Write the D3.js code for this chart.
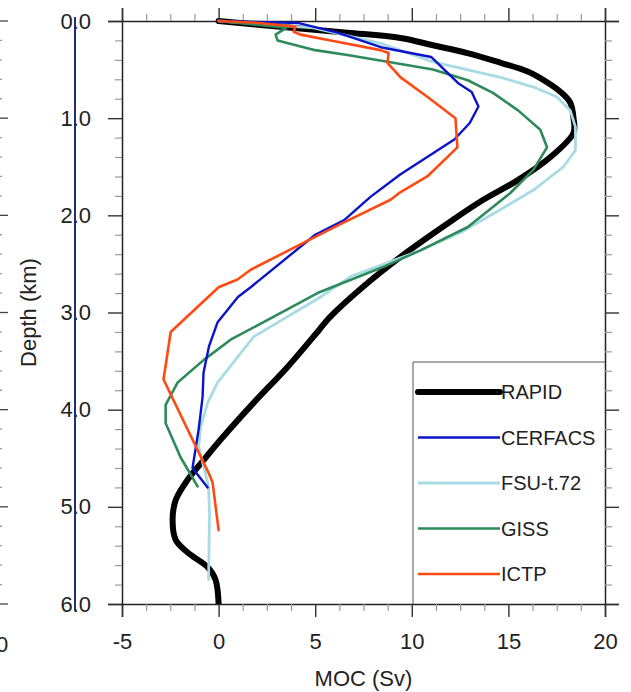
<!DOCTYPE html>
<html>
<head>
<meta charset="utf-8">
<script src="https://cdn.jsdelivr.net/npm/d3@7"></script>
<style>
  body { margin: 0; background: #fff; }
  svg { display: block; }
  text { font-family: "Liberation Sans", Helvetica, Arial, sans-serif; fill: #222; }
</style>
</head>
<body>
<svg id="chart" width="631" height="692"></svg>
<script>
// series names + colours
var names = ["RAPID", "CERFACS", "FSU-t.72", "GISS", "ICTP"];
var colors = ["#000000", "#0a14c8", "#a8dbe3", "#2e8a5a", "#ff4a14"];

// MOC (Sv) against depth (km)
var rapidDepth = [0, 0.06, 0.12, 0.175, 0.25, 0.33, 0.43, 0.52, 0.63, 0.73, 0.84, 1.0, 1.15, 1.4, 1.64, 1.84, 2.05, 2.43, 2.74, 3.05, 3.18, 3.56, 3.93, 4.31, 4.52, 4.72, 4.93, 5.13, 5.34, 5.47, 5.62, 5.75, 6.0];
var rapidMoc   = [0, 3.2, 6.67, 9.42, 11.1, 12.88, 14.6, 16.0, 17.0, 17.7, 18.2, 18.37, 18.37, 17.18, 15.47, 13.7, 12.1, 9.4, 7.45, 5.75, 5.2, 3.57, 1.81, 0.1, -0.78, -1.6, -2.22, -2.38, -2.22, -1.6, -0.57, -0.16, 0];

var cerfacsDepth = [0, 0.02, 0.12, 0.27, 0.37, 0.64, 0.73, 0.88, 1.05, 1.22, 1.4, 1.58, 1.81, 2.05, 2.2, 2.74, 2.84, 3.1, 3.35, 3.62, 3.87, 4.2, 4.6, 4.8];
var cerfacsMoc   = [0, 4.1, 6.15, 8.4, 11.0, 12.4, 13.1, 13.45, 13.0, 12.2, 10.8, 9.4, 7.86, 6.5, 5.0, 1.66, 1.0, -0.05, -0.5, -0.78, -0.83, -1.03, -1.35, -0.57];

var fsuDepth = [0, 0.07, 0.23, 0.42, 0.58, 0.68, 0.78, 0.92, 1.09, 1.33, 1.5, 1.74, 1.94, 2.18, 2.36, 2.63, 2.84, 3.25, 3.72, 3.93, 4.18, 4.38, 4.79, 5.06, 5.75];
var fsuMoc   = [0, 4.9, 8.4, 11.1, 14.6, 16.3, 17.5, 18.2, 18.47, 18.47, 17.85, 16.3, 14.6, 12.5, 10.45, 6.83, 5.28, 1.81, -0.05, -0.57, -0.93, -1.03, -0.52, -0.47, -0.52];

var gissDepth = [0, 0.07, 0.14, 0.2, 0.23, 0.3, 0.35, 0.42, 0.5, 0.61, 0.74, 0.92, 1.12, 1.3, 1.53, 1.77, 2.12, 2.36, 2.53, 2.8, 3.06, 3.28, 3.49, 3.72, 3.95, 4.14, 4.49, 4.79];
var gissMoc   = [0, 3.5, 2.95, 3.05, 3.6, 5.0, 6.67, 8.74, 11.1, 12.9, 14.2, 15.5, 16.65, 17.0, 16.3, 15.1, 12.9, 10.45, 8.54, 5.12, 2.69, 0.62, -0.78, -2.12, -2.74, -2.74, -1.97, -1.09];

var ictpDepth = [0, 0.02, 0.06, 0.11, 0.14, 0.2, 0.3, 0.33, 0.43, 0.58, 0.78, 1.0, 1.3, 1.6, 1.76, 1.84, 2.1, 2.56, 2.66, 2.74, 3.2, 3.69, 4.65, 4.75, 5.24];
var ictpMoc   = [0, 2.1, 3.98, 3.88, 4.24, 5.8, 8.38, 8.8, 8.74, 9.42, 10.8, 12.26, 12.36, 10.8, 9.42, 8.9, 6.2, 1.66, 0.98, 0, -2.48, -2.85, -0.52, -0.31, 0];

var xTicks = [-5, 0, 5, 10, 15, 20];
var yTicks = [0, 1, 2, 3, 4, 5, 6];

var series = [
  {depth: rapidDepth, moc: rapidMoc, width: 6, smooth: true},
  {depth: cerfacsDepth, moc: cerfacsMoc, width: 2.4},
  {depth: fsuDepth, moc: fsuMoc, width: 2.8},
  {depth: gissDepth, moc: gissMoc, width: 2.6},
  {depth: ictpDepth, moc: ictpMoc, width: 2.6}
];

drawChart();

function drawChart() {
  var svg = d3.select("#chart");
  var pL = 122, pR = 605, pT = 21, pB = 604;

  var x = d3.scaleLinear().domain([-5, 20]).range([pL, pR]);
  var y = d3.scaleLinear().domain([0, 6]).range([pT, pB]);

  var minorX = d3.range(-5, 20.01, 1.25).filter(function(v) { return xTicks.indexOf(v) < 0; });
  var minorY = d3.range(0, 6.01, 0.2).map(function(v) { return Math.round(v * 10) / 10; })
    .filter(function(v) { return yTicks.indexOf(v) < 0; });

  // bits of the neighbouring panel, cut off at the left edge
  var ghost = svg.append("g").attr("stroke", "#444").attr("stroke-width", 1.3);
  yTicks.forEach(function(t) {
    ghost.append("line").attr("x1", 0).attr("x2", 8).attr("y1", y(t)).attr("y2", y(t));
  });
  minorY.forEach(function(t) {
    ghost.append("line").attr("x1", 0).attr("x2", 2).attr("y1", y(t)).attr("y2", y(t)).attr("stroke", "#999");
  });
  svg.append("text").attr("x", -4).attr("y", 652).attr("text-anchor", "middle")
    .style("font-size", "22px").text("20");

  // ordinary hyphen for negatives, like the original
  var fmtX = function(v) { return String(v); };
  var fmtY = function(v) { return v.toFixed(1); };

  var gTop = svg.append("g").attr("transform", "translate(0," + pT + ")");
  gTop.call(d3.axisTop(x).tickValues(xTicks).tickSize(13).tickFormat(""));
  var gTopMinor = svg.append("g").attr("transform", "translate(0," + pT + ")");
  gTopMinor.call(d3.axisTop(x).tickValues(minorX).tickSize(7).tickFormat(""));

  var gBot = svg.append("g").attr("transform", "translate(0," + pB + ")");
  gBot.call(d3.axisBottom(x).tickValues(xTicks).tickSize(13).tickFormat(fmtX).tickPadding(16));
  var gBotMinor = svg.append("g").attr("transform", "translate(0," + pB + ")");
  gBotMinor.call(d3.axisBottom(x).tickValues(minorX).tickSize(7).tickFormat(""));

  var gLeft = svg.append("g").attr("transform", "translate(" + pL + ",0)");
  gLeft.call(d3.axisLeft(y).tickValues(yTicks).tickSize(14).tickFormat(fmtY).tickPadding(17));
  var gLeftMinor = svg.append("g").attr("transform", "translate(" + pL + ",0)");
  gLeftMinor.call(d3.axisLeft(y).tickValues(minorY).tickSize(7).tickFormat(""));

  var gRight = svg.append("g").attr("transform", "translate(" + pR + ",0)");
  gRight.call(d3.axisRight(y).tickValues(yTicks).tickSize(14).tickFormat(""));
  var gRightMinor = svg.append("g").attr("transform", "translate(" + pR + ",0)");
  gRightMinor.call(d3.axisRight(y).tickValues(minorY).tickSize(7).tickFormat(""));

  svg.selectAll(".domain").attr("stroke", "#222").attr("stroke-width", 1.5);
  svg.selectAll(".tick line").attr("stroke", "#333").attr("stroke-width", 1.4);
  [gTopMinor, gBotMinor, gLeftMinor, gRightMinor].forEach(function(g) {
    g.selectAll(".tick line").attr("stroke", "#999").attr("stroke-width", 1.2);
    g.select(".domain").remove();
  });
  svg.selectAll(".tick text").style("font-size", "22px").attr("fill", "#222");

  // the dark line that runs through the depth labels
  svg.append("line").attr("x1", 75).attr("x2", 75).attr("y1", 17).attr("y2", 611)
    .attr("stroke", "#262d6e").attr("stroke-width", 2);

  // axis titles
  svg.append("text").attr("x", (pL + pR) / 2).attr("y", 686).attr("text-anchor", "middle")
    .style("font-size", "22px").text("MOC (Sv)");
  svg.append("text").attr("transform", "translate(36," + ((pT + pB) / 2) + ") rotate(-90)")
    .attr("text-anchor", "middle").style("font-size", "22px").text("Depth (km)");

  // profiles
  svg.append("defs").append("clipPath").attr("id", "plotclip")
    .append("rect").attr("x", pL).attr("y", pT - 3).attr("width", pR - pL).attr("height", pB - pT + 3);

  var plot = svg.append("g").attr("clip-path", "url(#plotclip)");
  var order = [0, 2, 3, 1, 4];
  order.forEach(function(i) {
    var s = series[i];
    var pts = s.depth.map(function(d, k) { return [s.moc[k], d]; });
    var line = d3.line()
      .x(function(p) { return x(p[0]); })
      .y(function(p) { return y(p[1]); })
      .curve(s.smooth ? d3.curveCatmullRom.alpha(0.5) : d3.curveLinear);
    plot.append("path").datum(pts)
      .attr("d", line)
      .attr("fill", "none")
      .attr("stroke", colors[i])
      .attr("stroke-width", s.width)
      .attr("stroke-linejoin", "round")
      .attr("stroke-linecap", "round");
  });

  // legend
  var lg = svg.append("g");
  lg.append("path")
    .attr("d", "M413," + pB + "V362H" + pR)
    .attr("fill", "none").attr("stroke", "#555").attr("stroke-width", 1);
  names.forEach(function(n, i) {
    var ly = 392 + i * 45.5;
    lg.append("line").attr("x1", 418).attr("x2", 500).attr("y1", ly).attr("y2", ly)
      .attr("stroke", colors[i]).attr("stroke-width", series[i].width)
      .attr("stroke-linecap", i === 0 ? "round" : "butt");
    lg.append("text").attr("x", 501).attr("y", ly + 7).style("font-size", "20px").text(n);
  });
}
</script>
</body>
</html>
